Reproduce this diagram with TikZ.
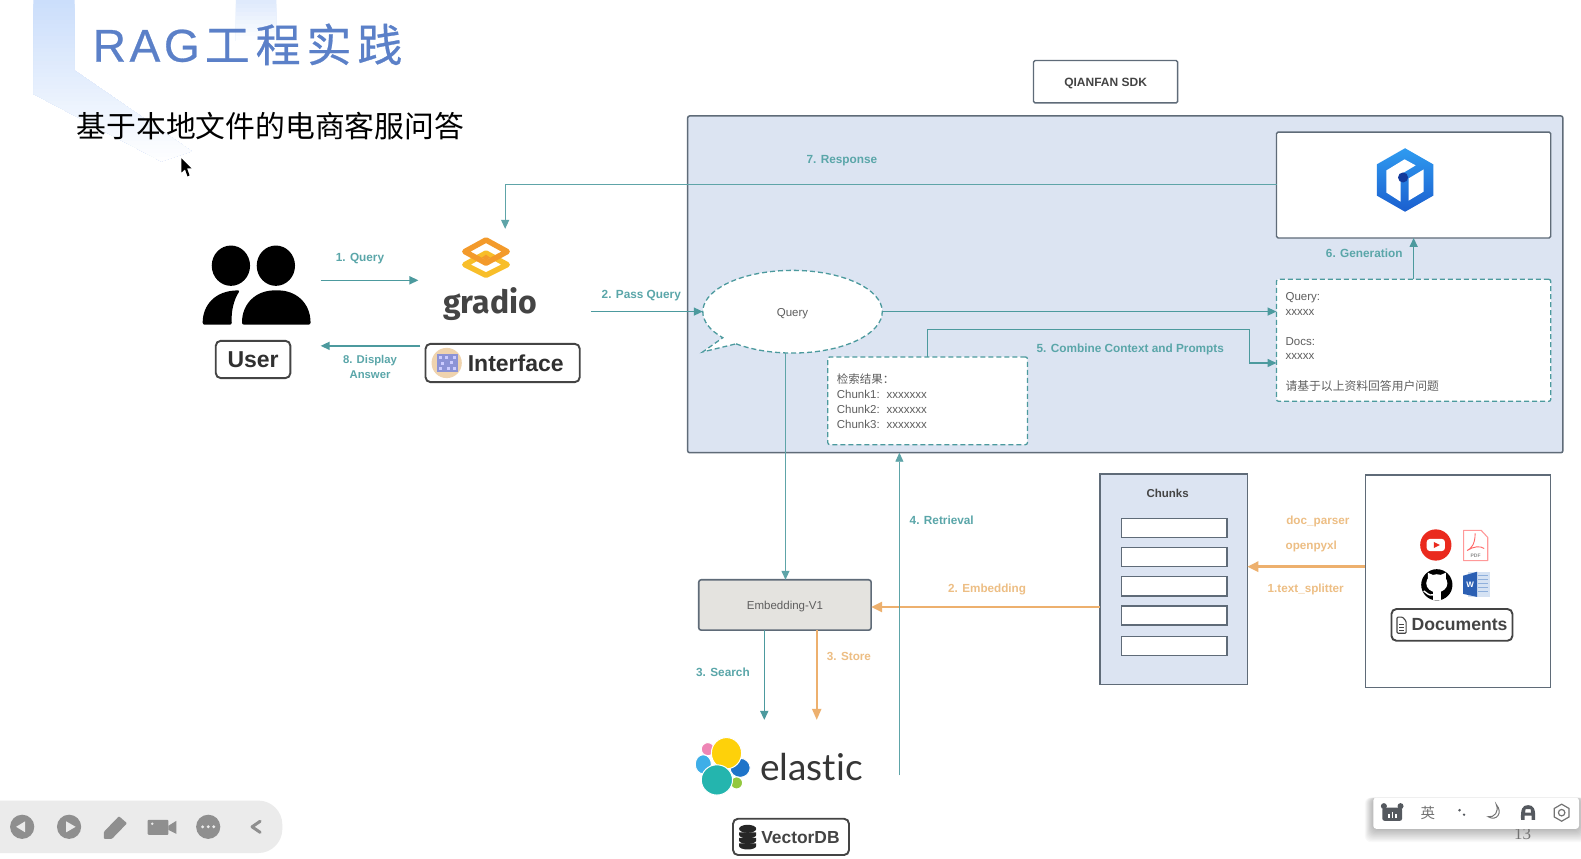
\documentclass[tikz,border=0pt]{standalone}
\usepackage{fontspec}
\setmainfont{Liberation Sans}
\newfontfamily\cjk{Noto Sans CJK SC}
\newfontfamily\titlefont[LetterSpace=13,FakeBold=0.6]{Noto Sans CJK SC}
\newfontfamily\titlelat[LetterSpace=8,FakeBold=0.6]{Liberation Sans}
\newfontfamily\gradiofont{Fira Sans}
\newfontfamily\elasticfont[Ligatures=NoCommon]{Lato}
\newfontfamily\pageserif{Liberation Serif}
\usetikzlibrary{arrows.meta,shapes.geometric,calc}
\definecolor{teal1}{HTML}{4C9A9E}
\definecolor{teallab}{HTML}{5AA6A9}
\definecolor{orange1}{HTML}{EDB06E}
\definecolor{orangelab}{HTML}{EDBE84}
\definecolor{panel}{HTML}{DCE4F2}
\definecolor{edge}{HTML}{5F6B78}
\definecolor{ink}{HTML}{444444}
\definecolor{soft}{HTML}{5E5E5E}
\definecolor{tool}{HTML}{8F8F8F}
\definecolor{imeico}{HTML}{55595F}
\definecolor{embfill}{HTML}{E4E3DF}
\definecolor{decoA}{HTML}{CBDEFB}
\definecolor{decoB}{HTML}{DFEAFC}
\definecolor{titlecol}{HTML}{5B80C8}
\newcommand{\fsz}[1]{\fontsize{#1}{#1}\selectfont}
\newcommand{\rectn}[7]{\node[#1,minimum width={(#5-#3)*1.0083pt},minimum height={(#6-#4)*1.0083pt}] (#2) at ({(#3+#5)/2},{(#4+#6)/2}) {#7};}
\tikzset{
  every node/.style={inner sep=0pt,outer sep=0pt},
  tealarrow/.style={draw=teal1,line width=1.5pt,-{Triangle[length=9pt,width=8pt]}},
  thinarrow/.style={draw=teal1!90,line width=1.2pt,-{Triangle[length=9pt,width=8pt]}},
  orangearrow/.style={draw=orange1,line width=2.8pt,-{Triangle[length=11pt,width=10pt]}},
  orangethin/.style={draw=orange1,line width=2pt,-{Triangle[length=11pt,width=9pt]}},
  tlabel/.style={text=teallab,font=\bfseries\fsz{11.8},text height=11pt,text depth=2.5pt},
  olabel/.style={text=orangelab,font=\bfseries\fsz{11.7},text height=11pt,text depth=2.5pt},
  plain/.style={text=soft,font=\fsz{11.5},yshift=-0.5pt},
  platelabel/.style={rectangle,rounded corners=5pt,draw=ink,line width=1.9pt,fill=white},
  panelbox/.style={rectangle,rounded corners=2pt,draw=edge,line width=1.5pt,fill=panel},
  whitebox/.style={rectangle,rounded corners=1.5pt,draw=edge,line width=1.4pt,fill=white},
  slotbox/.style={rectangle,draw=edge,line width=1.3pt,fill=white},
  dashbox/.style={rectangle,rounded corners=2pt,draw=teal1,line width=1.3pt,dash pattern=on 5pt off 3pt,fill=white},
  toolicon/.style={fill=tool,draw=none},
}
\begin{document}
\begin{tikzpicture}[x=1.0083pt,y=-1.0083pt]
\useasboundingbox (0,0) rectangle (1568,851);
\fill[white] (0,0) rectangle (1568,851);
% slide decoration, painted top to bottom in fading bands
\begin{scope}
\clip (33,0) -- (74,0) -- (74,70) -- (190,150) -- (160,160) -- (33,93) -- cycle;
\foreach \k in {0,...,40}{
  \pgfmathsetmacro{\pc}{100*(1-\k/40)}
  \fill[decoA!\pc!white] (30,{\k*4}) rectangle (200,165);
}
\end{scope}
\begin{scope}
\clip (234,0) rectangle (274,40);
\foreach \k in {0,...,10}{
  \pgfmathsetmacro{\pc}{100*(1-\k/10)}
  \fill[decoB!\pc!white] (230,{\k*4}) rectangle (280,45);
}
\end{scope}
% title
\node[anchor=west] (title) at (92,44) {\color{titlecol}\titlelat\fsz{46}RAG\hspace{5pt}\titlefont\fsz{45}工程实践};
\node[anchor=west,text=black,font=\cjk\fsz{29.8}] (subtitle) at (76,125) {基于本地文件的电商客服问答};
% cursor
\fill[black] (180,157) -- (180,171) -- (183.5,168) -- (186,175) -- (188,174) -- (185.5,167) -- (190,167) -- cycle;
% user icon
\fill[black] (229,263.5) ellipse (19 and 20);
\fill[black] (273.6,263.5) ellipse (19 and 20);
\fill[black,rounded corners=2pt] (240,322) .. controls (240,300) and (255,288) .. (274,288) .. controls (293,288) and (308,300) .. (308,322) -- cycle;
\fill[black,rounded corners=2pt] (201,322) .. controls (201,303) and (213,288) .. (238,288) .. controls (232,297) and (229,309) .. (230,322) -- cycle;
\rectn{platelabel}{user}{214}{338}{288}{375}{\raisebox{-8.5pt}[0pt][0pt]{\bfseries\fsz{23}\color{ink!70!black}User}}
% gradio logo
\definecolor{gradY}{HTML}{F8BE2A}
\definecolor{gradO}{HTML}{F39A2B}
\draw[line width=5.5pt,color=gradY,line join=round] (482,251) -- (503,262.5) -- (482,273) -- (461,262.5) -- cycle;
\draw[line width=5.5pt,color=gradO,line join=round] (482,238) -- (503,249.5) -- (482,261) -- (461,249.5) -- cycle;
\fill[gradO] (482,252.5) -- (486,255.5) -- (482,258.5) -- (478,255.5) -- cycle;
\node[text=ink,font=\gradiofont\bfseries\fsz{32}] (gradio) at (486,301.5) {gradio};
\rectn{platelabel}{iface}{422}{341}{575}{379}{}
\definecolor{ifaceP}{HTML}{EFD3AE}
\definecolor{ifaceB}{HTML}{8C93D6}
\fill[ifaceP] (443,360) circle (15);
\fill[ifaceB] (433,351) rectangle (454,369);
\foreach \px/\py in {435/353,441/353,449/353,437/359,446/358,435/364,443/364,449/364}{\fill[white!80!blue] (\px,\py) rectangle +(3.5,3);}
\node[anchor=west,text=ink!70!black,font=\bfseries\fsz{23}] (ifacetext) at (464,360.5) {Interface};
% connectors on the left
\coordinate (q1a) at (318,278); \coordinate (q1b) at (415,278);
\draw[tealarrow] (q1a) -- (q1b);
\node[tlabel] (l1) at (357,255) {1. Query};
\coordinate (d8a) at (417,343); \coordinate (d8b) at (318,343);
\draw[tealarrow] (d8a) -- (d8b);
\node[text=teallab,align=center,font=\bfseries\fontsize{11.3}{15}\selectfont] (l8) at (367,364) {8. Display\\Answer};
% top label
\rectn{whitebox}{sdk}{1025}{60}{1168}{102}{\raisebox{-4.5pt}[0pt][0pt]{\bfseries\fsz{12}\color{ink}QIANFAN SDK}}
% big panel
\rectn{panelbox}{big}{682}{115}{1550}{449}{}
% generation box
\rectn{whitebox}{gen}{1266}{131}{1538}{236}{}
\definecolor{qfA}{HTML}{2F9BF0}
\definecolor{qfB}{HTML}{1B5FCF}
\shade[top color=qfA,bottom color=qfB] (1393.5,147) -- (1421.5,163) -- (1421.5,194) -- (1393.5,210) -- (1365.5,194) -- (1365.5,163) -- cycle;
\fill[white] (1375,169) -- (1393,158) -- (1404,164) -- (1389,173) -- (1389,200) -- (1375,191) -- cycle;
\fill[white] (1397,177) -- (1412,168) -- (1412,190) -- (1397,199) -- cycle;
\definecolor{qfD}{HTML}{123A9C}
\fill[qfD] (1391.5,176) circle (5);
% prompt box
\rectn{dashbox}{prompt}{1266}{277}{1538}{398}{}
\node[plain,anchor=west] (p1) at (1275,294.5) {Query:};
\node[plain,anchor=west] (p2) at (1275,309) {xxxxx};
\node[plain,anchor=west] (p3) at (1275,338) {Docs:};
\node[plain,anchor=west] (p4) at (1275,353) {xxxxx};
\node[plain,anchor=west,font=\cjk\fsz{11.8}] (p5) at (1275,382) {请基于以上资料回答用户问题};
% query bubble
\node[ellipse,minimum width=179.5pt,minimum height=82.6pt] (qb) at (786,309) {};
\draw[draw=teal1,line width=1.3pt,dash pattern=on 5pt off 3pt,fill=white] (730,341) arc[start angle=129,end angle=-219,x radius=89,y radius=41] -- (697,349) -- cycle;
\node[plain] (qt) at (786,310.5) {Query};
% retrieved box
\rectn{dashbox}{ret}{821}{354}{1019}{441}{}
\node[plain,anchor=west,font=\cjk\fsz{11.5}] (r0) at (830,375) {检索结果：};
\node[plain,anchor=west] (r1) at (830,391) {Chunk1:\hspace{7pt}xxxxxxx};
\node[plain,anchor=west] (r2) at (830,405.5) {Chunk2:\hspace{7pt}xxxxxxx};
\node[plain,anchor=west] (r3) at (830,420) {Chunk3:\hspace{7pt}xxxxxxx};
% connectors in panel
\draw[tealarrow] (qb.east) -- (qb.east -| prompt.west);
\coordinate (combine) at (1239,360);
\draw[tealarrow] (ret.north) -- (920,327) -| (combine) -- (combine -| prompt.west);
\node[tlabel] (l5) at (1121,345) {5. Combine Context and Prompts};
\draw[tealarrow] (prompt.north) -- (gen.south);
\node[tlabel] (l6) at (1353,251) {6. Generation};
\coordinate (resp) at (501,227);
\draw[thinarrow] (gen.west |- 0,183) -- (501,183) -- (resp);
\node[tlabel] (l7) at (835,158) {7. Response};
\coordinate (pq) at (586,309);
\draw[tealarrow] (pq) -- (qb.west);
\node[tlabel] (l2) at (636,292) {2. Pass Query};
% embedding
\rectn{rectangle,rounded corners=2.5pt,draw=edge,line width=1.6pt,fill=embfill}{emb}{693}{575}{864}{625}{\raisebox{-5pt}[0pt][0pt]{\fsz{11.5}\color{soft}Embedding-V1}}
\draw[thinarrow] (779,350) -- (emb.north -| 779,0);
% chunks
\rectn{rectangle,draw=edge,line width=1.4pt,fill=panel}{chunks}{1091}{470}{1237}{679}{}
\node[text=ink,font=\bfseries\fsz{11.5}] (chtitle) at (1158,489) {Chunks};
\rectn{slotbox}{c1}{1112}{514}{1217}{533}{}
\rectn{slotbox}{c2}{1112}{543}{1217}{562}{}
\rectn{slotbox}{c3}{1112}{572}{1217}{591}{}
\rectn{slotbox}{c4}{1112}{601}{1217}{620}{}
\rectn{slotbox}{c5}{1112}{631}{1217}{650}{}
% documents
\rectn{rectangle,draw=edge,line width=1.4pt,fill=white}{docs}{1354}{471}{1538}{682}{}
\definecolor{ytred}{HTML}{EA2A1E}
\fill[ytred] (1424,540.5) circle (15.5);
\fill[white,rounded corners=3pt] (1415,534.5) rectangle (1433,546.5);
\fill[ytred] (1422,537.5) -- (1428,540.5) -- (1422,543.5) -- cycle;
\draw[red!40!white,line width=1.1pt,fill=white,line join=round] (1451.5,526) -- (1469,526) -- (1475.5,533) -- (1475.5,556) -- (1451.5,556) -- cycle;
\draw[red!60!white,line width=0.9pt] (1463,529) .. controls (1463,540) and (1459,544) .. (1455,546) .. controls (1461,542) and (1468,541) .. (1472,544);
\node[text=ink!60!white,font=\bfseries\fsz{5}] (pdf) at (1463.5,551) {PDF};
% github mark
\fill[black] (1425,580) circle (15.5);
\fill[white] (1425,578.5) ellipse (10.5 and 9);
\fill[white] (1416,568) -- (1423,571) -- (1416,576) -- cycle;
\fill[white] (1434,568) -- (1427,571) -- (1434,576) -- cycle;
\fill[white] (1421,585) rectangle (1429,595.2);
\draw[white,line width=1.4pt] (1421,590) .. controls (1417,591) and (1415,588) .. (1412,586);
% word icon
\definecolor{wordL}{HTML}{D5E2F3}
\definecolor{wordD}{HTML}{2B5FB3}
\definecolor{wordM}{HTML}{8FB0DC}
\fill[wordL] (1456,567.5) rectangle (1478,592);
\foreach \ly in {571,575,579,583,587}{\draw[wordM,line width=0.9pt] (1466,\ly) -- (1476,\ly);}
\fill[wordD] (1451,571) -- (1465,567) -- (1465,592) -- (1451,589) -- cycle;
\node[text=white,font=\bfseries\fsz{8}] (wordw) at (1458,580) {W};
\rectn{platelabel}{doclabel}{1380}{604}{1500}{635.5}{}
\draw[ink,line width=1.1pt,rounded corners=1pt] (1385.5,612) -- (1391,612) -- (1394.5,616) -- (1394.5,628) -- (1385.5,628) -- cycle;
\draw[ink,line width=1pt] (1387.5,619) -- (1392.5,619) (1387.5,622) -- (1392.5,622) (1387.5,625) -- (1392.5,625);
\node[anchor=west,text=ink,font=\bfseries\fsz{17.6}] (doctext) at (1400,619.5) {Documents};
% orange connectors
\draw[orangearrow] (docs.west |- 0,562) -- (chunks.east |- 0,562);
\node[olabel] (ldp) at (1307,516) {doc\_parser};
\node[olabel] (lop) at (1300.5,541) {openpyxl};
\node[olabel] (lts) at (1295,583) {1.text\_splitter};
\draw[orangearrow] (chunks.west |- 0,602) -- (emb.east |- 0,602);
\node[olabel] (l2e) at (979,583) {2. Embedding};
% elastic
\coordinate (search) at (758,714); \coordinate (store) at (810,714);
\draw[tealarrow] (search |- emb.south) -- (search);
\draw[orangethin] (store |- emb.south) -- (store);
\node[tlabel] (l3a) at (717,667) {3. Search};
\node[olabel] (l3b) at (842,651) {3. Store};
\coordinate (rt) at (892,769);
\draw[thinarrow,line width=0.9pt] (rt) -- (rt |- big.south);
\node[tlabel] (l4) at (934,516) {4. Retrieval};
\definecolor{elPink}{HTML}{EE85B5}
\definecolor{elSky}{HTML}{3EAEE8}
\definecolor{elBlue}{HTML}{1E74C9}
\definecolor{elGreen}{HTML}{93C83E}
\definecolor{elYellow}{HTML}{FED10A}
\definecolor{elTeal}{HTML}{24B5AE}
\begin{scope}[draw=white,line width=1pt]
\filldraw[fill=elPink] (702,743) circle (6.5);
\filldraw[fill=elSky] (697.5,758) ellipse (8 and 9.5);
\filldraw[fill=elBlue] (734,761.5) ellipse (10 and 9.5);
\filldraw[fill=elGreen] (730.5,776.5) circle (6);
\filldraw[fill=elYellow] (720.5,747) ellipse (15 and 15.5);
\filldraw[fill=elTeal] (711,773.5) ellipse (15.5 and 15);
\end{scope}
\node[anchor=west,text=ink!80!black,font=\elasticfont\fsz{37}] (elastic) at (754,760.5) {elastic};
\rectn{platelabel}{vdb}{727}{812}{842}{848}{}
\fill[black!85] (741.5,822) ellipse (8.5 and 4);
\foreach \dy in {828,833.5,839}{\fill[black!85] (733,\dy-2.5) -- (750,\dy-2.5) -- (750,\dy) arc[start angle=0,end angle=180,x radius=8.5,y radius=3.5] -- cycle;}
\node[anchor=west,text=ink,font=\bfseries\fsz{17.4}] (vdbtext) at (755,830.5) {VectorDB};
% left toolbar
\fill[black!8,rounded corners=24pt] (-30,794) rectangle (280,846);
\fill[toolicon] (22,820) circle (12);
\fill[black!8] (16,820) -- (25,814.5) -- (25,825.5) -- cycle;
\fill[toolicon] (68.5,820) circle (12);
\fill[black!8] (75,820) -- (65.5,814.5) -- (65.5,825.5) -- cycle;
\fill[toolicon,rounded corners=1pt] (103,832) -- (103,825) -- (118,809.5) -- (126,816.5) -- (111,832) -- cycle;
\fill[toolicon,rounded corners=1pt] (146.5,813) rectangle (167,828);
\fill[toolicon] (167,819) -- (175,814) -- (175,827) -- (167,823) -- cycle;
\fill[black!8] (151,817) circle (1.4);
\fill[toolicon] (206.5,820) circle (12);
\foreach \dx in {201,206.5,212}{\fill[black!8] (\dx,820) circle (1.6);}
\draw[tool,line width=3pt,line join=round,line cap=round] (258,814.5) -- (250,820) -- (258,825.5);
% IME toolbar
\foreach \sp in {1,...,12}{\fill[black,opacity=0.022,rounded corners=6pt] (1362-\sp*0.7,791) rectangle (1566+\sp*0.7,822+\sp*1.1);}
\node[text=black!55,font=\pageserif\fsz{17}] (pagenum) at (1510,827) {13};
\rectn{rectangle,rounded corners=3pt,fill=white}{ime}{1362}{791}{1566}{822}{}
\fill[imeico,rounded corners=2pt] (1371,801) rectangle (1390.5,814);
\fill[imeico] (1372.5,799.5) circle (3) (1389,799.5) circle (3);
\foreach \bx/\bh in {1377/4,1380.5/6,1384/4}{\fill[white] (\bx,811) rectangle +(1.4,-\bh);}
\node[text=black!55,font=\cjk\fsz{14.5}] (ying) at (1416,806) {英};
\fill[imeico] (1447.5,803.5) circle (1.4);
\fill[imeico] (1452,808) circle (1.3);
\draw[black!55,line width=1pt] (1484,798) .. controls (1491,806) and (1484,815) .. (1476,810) .. controls (1482,811) and (1487,805) .. (1484,798) -- cycle;
\fill[imeico,even odd rule] (1508.5,813) .. controls (1508,802) and (1510,798.5) .. (1515.5,798.5) .. controls (1521,798.5) and (1523,802) .. (1522.5,813) -- (1519,813) -- (1519,809) -- (1512,809) -- (1512,813) -- cycle (1512.5,806) -- (1518.5,806) -- (1518,802.5) -- (1513,802.5) -- cycle;
\node[regular polygon,regular polygon sides=6,draw=black!55,line width=1.2pt,minimum size=17pt,rotate=30] (hexi) at (1548.8,806) {};
\draw[black!55,line width=1.2pt] (1548.8,806) circle (3.2);
\end{tikzpicture}
\end{document}
